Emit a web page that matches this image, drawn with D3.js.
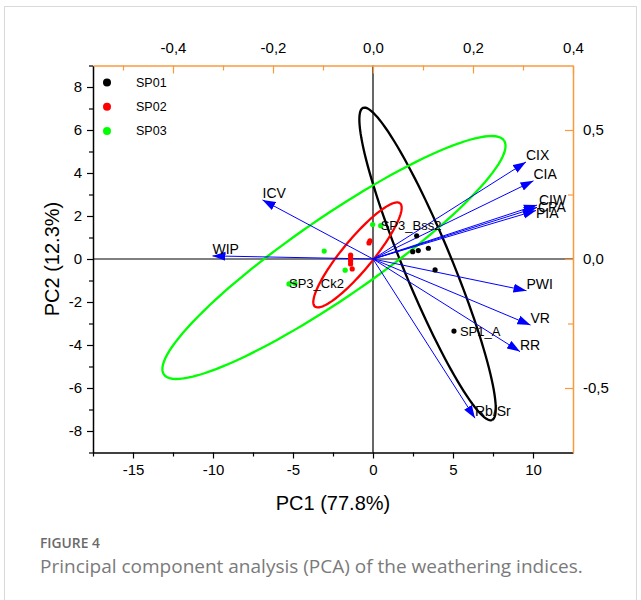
<!DOCTYPE html>
<html>
<head>
<meta charset="utf-8">
<script src="https://cdn.jsdelivr.net/npm/d3@7"></script>
<style>
  body { margin: 0; background: #fff; }
  svg text { font-family: "Liberation Sans", Arial, sans-serif; }
  .caption text { font-family: "Open Sans", sans-serif; }
</style>
</head>
<body>
<svg id="chart" width="641" height="600"></svg>
<script>
// ---- data ----
var groups = ["SP01", "SP02", "SP03"];
var groupColors = ["#000000", "#ff0000", "#00ff00"];

// scores (PC1, PC2)
var sp01X = [2.73, 2.48, 2.83, 3.46, 3.88, 5.06];
var sp01Y = [1.08, 0.34, 0.39, 0.50, -0.51, -3.35];
var sp02X = [-0.19, -0.25, -1.40, -1.40, -1.40, -1.40, -1.30];
var sp02Y = [0.85, 0.75, 0.18, 0.04, -0.09, -0.23, -0.46];
var sp03X = [-0.02, 0.48, -3.05, -1.74, -5.25, -4.88];
var sp03Y = [1.60, 1.55, 0.37, -0.52, -1.16, -1.13];

// named samples: [group index, point index, label]
var sampleLabels = [[2, 1, "SP3_Bss2"], [2, 4, "SP3_Ck2"], [0, 5, "SP1_A"]];

// confidence ellipses: centre and half-axis vectors, in PC units
var ellipseCx = [3.41, -0.97, -2.44];
var ellipseCy = [-0.23, 0.19, 0.07];
var ellipseA = [[4.03, -7.26], [2.66, 2.40], [10.63, 5.44]];
var ellipseB = [[1.39, 0.43], [0.74, -0.45], [1.42, -1.53]];

// loadings (top / right axes)
var varNames = ["CIX", "CIA", "CIW", "CPA", "PIA", "ICV", "WIP", "PWI", "VR", "RR", "Rb/Sr"];
var loadX = [0.306, 0.321, 0.328, 0.328, 0.326, -0.221, -0.321, 0.307, 0.315, 0.294, 0.204];
var loadY = [0.376, 0.303, 0.209, 0.200, 0.188, 0.229, 0.012, -0.123, -0.256, -0.359, -0.617];

var xTicks = [-15, -10, -5, 0, 5, 10];
var yTicks = [-8, -6, -4, -2, 0, 2, 4, 6, 8];
var topTicks = [-0.4, -0.2, 0.0, 0.2, 0.4];
var rightTicks = [-0.5, 0.0, 0.5];

// ---- layout ----
var svg = d3.select("#chart");
var orange = "#f89b3f";
var pLeft = 93, pRight = 573, pTop = 65.5, pBottom = 452.5;

var x = d3.scaleLinear().domain([-17.5, 12.5]).range([pLeft, pRight]);
var y = d3.scaleLinear().domain([-9, 9]).range([pBottom, pTop]);
var xTop = d3.scaleLinear().domain([-0.56, 0.4]).range([pLeft, pRight]);
var yRight = d3.scaleLinear().domain([-0.75, 0.75]).range([pBottom, pTop]);

var loc = d3.formatLocale({decimal: ",", thousands: ".", grouping: [3], currency: ["", ""], minus: "-"});
var f1 = loc.format(".1f");
var f0 = loc.format("d");

// frame
svg.append("rect")
    .attr("x", 4.5).attr("y", 6.5)
    .attr("width", 632).attr("height", 620)
    .attr("fill", "none")
    .attr("stroke", "#d9d9d9");

// zero lines
svg.append("line")
    .attr("x1", x(0)).attr("x2", x(0))
    .attr("y1", pTop).attr("y2", pBottom)
    .attr("stroke", "#000").attr("stroke-width", 1.2);
svg.append("line")
    .attr("x1", pLeft).attr("x2", pRight)
    .attr("y1", y(0)).attr("y2", y(0))
    .attr("stroke", "#000").attr("stroke-width", 1.2);

// axes
function styleAxis(g, color) {
    g.select(".domain").attr("stroke", color).attr("stroke-width", 1.5);
    g.selectAll(".tick line").attr("stroke", color).attr("stroke-width", 1.2);
    g.selectAll("text")
        .attr("fill", "#000")
        .style("font-size", "15px")
        .style("font-family", "'Liberation Sans', Arial, sans-serif");
}

var gBottom = svg.append("g").attr("transform", "translate(0," + pBottom + ")")
    .call(d3.axisBottom(x).tickValues(xTicks).tickFormat(f0).tickSize(6).tickSizeOuter(0).tickPadding(6));
styleAxis(gBottom, "#000");
svg.append("g").attr("transform", "translate(0," + pBottom + ")")
    .call(d3.axisBottom(x).tickValues([-17.5, -12.5, -7.5, -2.5, 2.5, 7.5]).tickFormat("").tickSize(4).tickSizeOuter(0))
    .call(function (g) { styleAxis(g, "#000"); g.select(".domain").remove(); });

var gLeft = svg.append("g").attr("transform", "translate(" + pLeft + ",0)")
    .call(d3.axisLeft(y).tickValues(yTicks).tickFormat(f0).tickSize(6).tickSizeOuter(0).tickPadding(5));
styleAxis(gLeft, "#000");
svg.append("g").attr("transform", "translate(" + pLeft + ",0)")
    .call(d3.axisLeft(y).tickValues([-9, -7, -5, -3, -1, 1, 3, 5, 7, 9]).tickFormat("").tickSize(4).tickSizeOuter(0))
    .call(function (g) { styleAxis(g, "#000"); g.select(".domain").remove(); });

var gTop = svg.append("g").attr("transform", "translate(0," + pTop + ")")
    .call(d3.axisTop(xTop).tickValues(topTicks).tickFormat(f1).tickSize(0).tickSizeOuter(0).tickPadding(13));
styleAxis(gTop, orange);
svg.append("g").attr("transform", "translate(0," + pTop + ")")
    .call(d3.axisBottom(xTop).tickValues(topTicks).tickFormat("").tickSize(8).tickSizeOuter(0))
    .call(function (g) { styleAxis(g, orange); g.select(".domain").remove(); });
svg.append("g").attr("transform", "translate(0," + pTop + ")")
    .call(d3.axisBottom(xTop).tickValues([-0.5, -0.3, -0.1, 0.1, 0.3]).tickFormat("").tickSize(5).tickSizeOuter(0))
    .call(function (g) { styleAxis(g, orange); g.select(".domain").remove(); });

var gRight = svg.append("g").attr("transform", "translate(" + pRight + ",0)")
    .call(d3.axisRight(yRight).tickValues(rightTicks).tickFormat(f1).tickSize(0).tickSizeOuter(0).tickPadding(10));
styleAxis(gRight, orange);
svg.append("g").attr("transform", "translate(" + pRight + ",0)")
    .call(d3.axisLeft(yRight).tickValues(rightTicks).tickFormat("").tickSize(8).tickSizeOuter(0))
    .call(function (g) { styleAxis(g, orange); g.select(".domain").remove(); });
svg.append("g").attr("transform", "translate(" + pRight + ",0)")
    .call(d3.axisLeft(yRight).tickValues([-0.25, 0.25]).tickFormat("").tickSize(5).tickSizeOuter(0))
    .call(function (g) { styleAxis(g, orange); g.select(".domain").remove(); });

// axis titles
svg.append("text")
    .attr("x", (pLeft + pRight) / 2).attr("y", 510)
    .attr("text-anchor", "middle")
    .style("font-size", "20px")
    .text("PC1 (77.8%)");
svg.append("text")
    .attr("transform", "translate(59," + (pTop + pBottom) / 2 + ") rotate(-90)")
    .attr("text-anchor", "middle")
    .style("font-size", "20px")
    .text("PC2 (12.3%)");

// ellipses
var ellipseLine = d3.line();
groups.forEach(function (grp, i) {
    var pts = d3.range(0, 121).map(function (k) {
        var t = k / 120 * 2 * Math.PI;
        var px = ellipseCx[i] + ellipseA[i][0] * Math.cos(t) + ellipseB[i][0] * Math.sin(t);
        var py = ellipseCy[i] + ellipseA[i][1] * Math.cos(t) + ellipseB[i][1] * Math.sin(t);
        return [x(px), y(py)];
    });
    svg.append("path")
        .attr("d", ellipseLine(pts))
        .attr("fill", "none")
        .attr("stroke", groupColors[i])
        .attr("stroke-width", 2.3);
});

// loading vectors
svg.append("defs").append("marker")
    .attr("id", "arrow")
    .attr("viewBox", "0 -5 13 10")
    .attr("refX", 13).attr("refY", 0)
    .attr("markerWidth", 13).attr("markerHeight", 10)
    .attr("markerUnits", "userSpaceOnUse")
    .attr("orient", "auto")
    .append("path")
    .attr("d", "M0,-4.5L13,0L0,4.5Z")
    .attr("fill", "#0000ff");

var labelShift = {"CIW": [2, -5], "CPA": [1, 0], "PIA": [0, 2.5]};

var vectors = varNames.map(function (n, i) { return {name: n, lx: loadX[i], ly: loadY[i]}; });
var vg = svg.append("g").attr("class", "vectors");
vg.selectAll("line")
    .data(vectors)
    .enter()
    .append("line")
    .attr("x1", xTop(0)).attr("y1", yRight(0))
    .attr("x2", function (d) { return xTop(d.lx); })
    .attr("y2", function (d) { return yRight(d.ly); })
    .attr("stroke", "#0000ff")
    .attr("stroke-width", 1)
    .attr("marker-end", "url(#arrow)");

vg.selectAll("text")
    .data(vectors)
    .enter()
    .append("text")
    .attr("x", function (d) { return xTop(d.lx) + (labelShift[d.name] ? labelShift[d.name][0] : 0); })
    .attr("y", function (d) { return yRight(d.ly) + (labelShift[d.name] ? labelShift[d.name][1] : -7); })
    .attr("dy", "0.35em")
    .style("font-size", "14px")
    .attr("fill", "#000")
    .text(function (d) { return d.name; });

// score points
var allX = [sp01X, sp02X, sp03X];
var allY = [sp01Y, sp02Y, sp03Y];
groups.forEach(function (grp, i) {
    var pts = allX[i].map(function (v, j) { return [v, allY[i][j]]; });
    svg.append("g").selectAll("circle")
        .data(pts)
        .enter()
        .append("circle")
        .attr("cx", function (d) { return x(d[0]); })
        .attr("cy", function (d) { return y(d[1]); })
        .attr("r", 2.6)
        .attr("fill", groupColors[i]);
});

// sample labels
svg.append("g").selectAll("text")
    .data(sampleLabels)
    .enter()
    .append("text")
    .attr("x", function (d) { return x(allX[d[0]][d[1]]) + (d[2] === "SP1_A" ? 6 : 0); })
    .attr("y", function (d) { return y(allY[d[0]][d[1]]); })
    .attr("dy", "0.35em")
    .style("font-size", "13px")
    .attr("fill", "#000")
    .text(function (d) { return d[2]; });

// legend
var lg = svg.append("g").selectAll("g")
    .data(groups)
    .enter()
    .append("g")
    .attr("transform", function (d, i) { return "translate(107," + (82.5 + i * 24.3) + ")"; });
lg.append("circle").attr("r", 4).attr("fill", function (d, i) { return groupColors[i]; });
lg.append("text")
    .attr("x", 29).attr("dy", "0.35em")
    .style("font-size", "12.5px")
    .text(function (d) { return d; });

// caption
var cap = svg.append("g").attr("class", "caption");
cap.append("text")
    .attr("x", 40).attr("y", 548)
    .attr("fill", "#6a6a6a")
    .style("font-size", "13.8px")
    .style("font-weight", "600")
    .text("FIGURE 4");
cap.append("text")
    .attr("x", 40).attr("y", 573)
    .attr("fill", "#7a7a7a")
    .style("font-size", "19px")
    .text("Principal component analysis (PCA) of the weathering indices.");
</script>
</body>
</html>
